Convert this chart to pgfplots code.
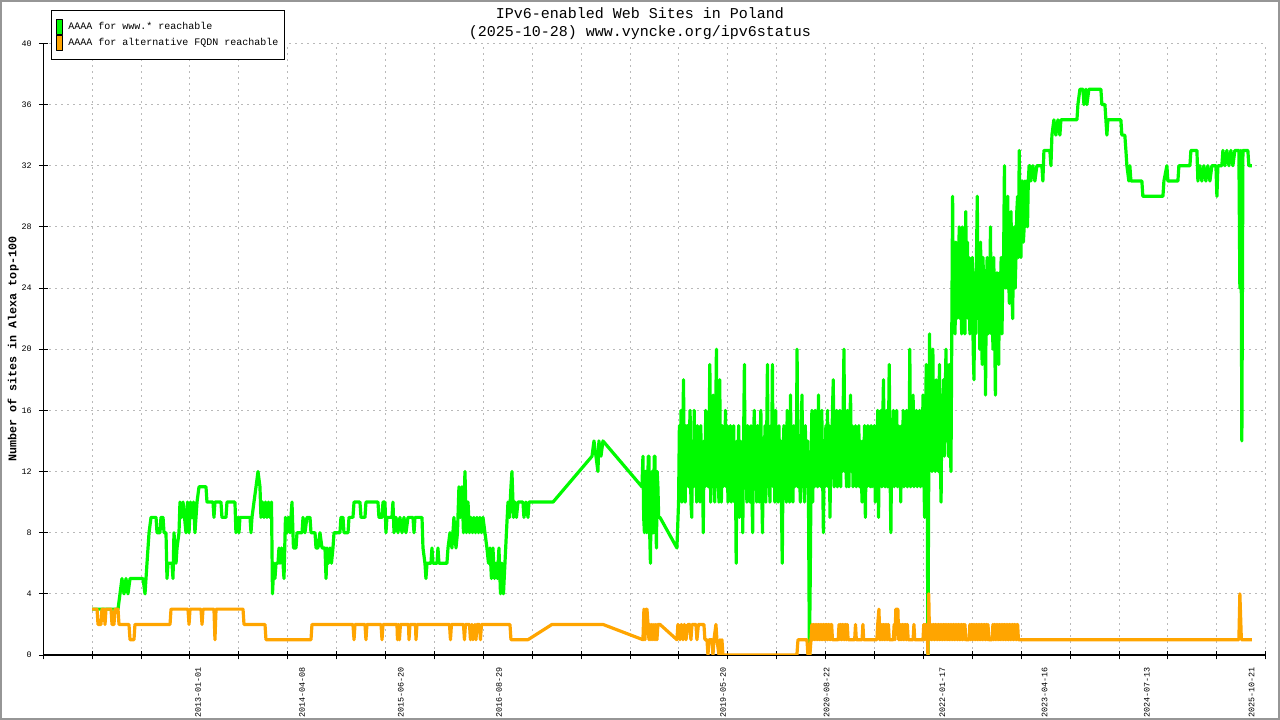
\documentclass[border=0pt]{standalone}
\usepackage{fontspec}
\setmainfont{Liberation Mono}
\usepackage{pgfplots}
\pgfplotsset{compat=1.18}
\definecolor{wwwgreen}{RGB}{0,250,0}
\definecolor{altorange}{RGB}{255,165,0}
\definecolor{gridgray}{RGB}{185,185,185}
\definecolor{framegray}{RGB}{150,150,150}

\begin{document}
\begin{tikzpicture}
\useasboundingbox (0,0) rectangle (640bp,360bp);
\draw[framegray, line width=1bp] (0.5bp,0.5bp) rectangle (639.5bp,359.5bp);
\node[font=\fontsize{7.5bp}{9.25bp}\selectfont, align=center, anchor=center] at (320bp,348.1bp)
  {IPv6-enabled Web Sites in Poland\\(2025-10-28) www.vyncke.org/ipv6status};
\begin{axis}[
  at={(21.65bp,32.5bp)}, anchor=south west,
  scale only axis, width=611.2bp, height=305.8bp,
  xmin=2011.120, xmax=2025.975, ymin=0, ymax=40,
  axis x line*=bottom, axis y line*=left,
  axis line style={black, line width=0.6bp, -},
  xtick={2011.120,2011.7142,...,2026}, xticklabels={},
  ytick={0,4,...,40},
  tick align=center, major tick length=4.5bp,
  tick style={black, line width=0.5bp},
  grid=major, grid style={gridgray, dash pattern=on 1bp off 2bp, line width=0.5bp},
  extra x ticks={2013.000,2014.266,2015.466,2016.658,2019.381,2020.639,2022.044,2023.288,2024.530,2025.803},
  extra x tick labels={2013-01-01,2014-04-08,2015-06-20,2016-08-29,2019-05-20,2020-08-22,2022-01-17,2023-04-16,2024-07-13,2025-10-21},
  extra x tick style={grid=none, major tick length=0pt,
    tick label style={rotate=90, anchor=east, font=\fontsize{4.2bp}{5bp}\selectfont}},
  xticklabel shift=2.5bp,
  yticklabel style={font=\fontsize{4.2bp}{5bp}\selectfont},
  /pgf/number format/assume math mode=true,
  ylabel={Number of sites in Alexa top-100},
  ylabel style={font=\bfseries\fontsize{5.85bp}{7bp}\selectfont, at={(axis description cs:-0.0245,0.5)}, anchor=center},
  legend style={at={(axis description cs:0.006,1.0544)}, anchor=north west, draw=black, line width=0.5bp,
    font=\fontsize{5bp}{6bp}\selectfont, inner xsep=2.6bp, inner ysep=4.2bp, row sep=0.3bp,
    nodes={inner sep=0.5bp}, /tikz/every odd column/.append style={column sep=2bp}},
  legend cell align=left,
]
\addplot[wwwgreen, line width=1.6bp, line join=round,
  legend image code/.code={\filldraw[fill=wwwgreen, draw=black, line width=0.5bp] (0bp,-3.7bp) rectangle (3bp,3.7bp);}]
coordinates {
(2011.712,3) (2012.028,3) (2012.052,4) (2012.076,5) (2012.101,4) (2012.125,5) (2012.149,4) (2012.174,5)
(2012.332,5) (2012.356,4) (2012.380,6) (2012.405,8) (2012.429,9) (2012.490,9) (2012.502,8) (2012.538,8)
(2012.550,9) (2012.575,9) (2012.587,8) (2012.611,8) (2012.623,5) (2012.635,6) (2012.684,6) (2012.696,5)
(2012.708,8) (2012.733,6) (2012.745,7) (2012.769,8) (2012.781,10) (2012.799,9) (2012.818,10) (2012.836,9)
(2012.854,8) (2012.872,10) (2012.891,8) (2012.909,10) (2012.927,9) (2012.945,10) (2012.963,8) (2012.988,10)
(2013.012,11) (2013.097,11) (2013.109,10) (2013.182,10) (2013.194,9) (2013.206,10) (2013.279,10) (2013.291,9)
(2013.340,9) (2013.352,10) (2013.449,10) (2013.461,8) (2013.486,9) (2013.498,8) (2013.510,9) (2013.632,9)
(2013.644,8) (2013.656,9) (2013.680,10) (2013.705,11) (2013.729,12) (2013.753,11) (2013.765,9) (2013.784,10)
(2013.802,9) (2013.820,10) (2013.838,9) (2013.856,10) (2013.875,9) (2013.893,10) (2013.905,4) (2013.923,6)
(2013.935,5) (2013.948,6) (2013.972,6) (2013.984,7) (2013.996,6) (2014.015,7) (2014.033,6) (2014.045,5)
(2014.063,9) (2014.081,8) (2014.099,9) (2014.118,8) (2014.142,10) (2014.160,7) (2014.191,7) (2014.203,8)
(2014.264,8) (2014.276,9) (2014.300,8) (2014.324,9) (2014.361,9) (2014.373,8) (2014.422,8) (2014.434,7)
(2014.458,7) (2014.482,8) (2014.507,7) (2014.543,7) (2014.556,5) (2014.568,7) (2014.586,6) (2014.604,7)
(2014.622,6) (2014.640,7) (2014.653,8) (2014.725,8) (2014.737,9) (2014.762,9) (2014.774,8) (2014.823,8)
(2014.835,9) (2014.883,9) (2014.896,10) (2014.968,10) (2014.981,9) (2015.029,9) (2015.041,10) (2015.187,10)
(2015.199,9) (2015.236,9) (2015.248,10) (2015.272,10) (2015.284,8) (2015.296,9) (2015.357,9) (2015.369,10)
(2015.382,8) (2015.406,9) (2015.430,8) (2015.454,9) (2015.479,8) (2015.503,9) (2015.527,8) (2015.552,9)
(2015.612,9) (2015.625,8) (2015.637,9) (2015.722,9) (2015.734,7) (2015.758,6) (2015.770,5) (2015.783,6)
(2015.831,6) (2015.843,7) (2015.855,6) (2015.904,6) (2015.916,7) (2015.928,6) (2016.025,6) (2016.038,7)
(2016.062,8) (2016.086,7) (2016.110,9) (2016.135,7) (2016.153,8) (2016.171,11) (2016.189,9) (2016.208,11)
(2016.226,8) (2016.244,12) (2016.262,8) (2016.281,10) (2016.299,8) (2016.317,9) (2016.335,8) (2016.353,9)
(2016.372,8) (2016.390,9) (2016.408,8) (2016.426,9) (2016.444,8) (2016.463,9) (2016.487,8) (2016.511,7)
(2016.530,6) (2016.548,7) (2016.566,5) (2016.584,7) (2016.603,5) (2016.621,6) (2016.639,5) (2016.657,7)
(2016.676,4) (2016.694,6) (2016.712,4) (2016.730,6) (2016.748,8) (2016.767,10) (2016.785,9) (2016.803,11)
(2016.815,12) (2016.834,9) (2016.852,10) (2016.870,9) (2016.888,10) (2016.949,10) (2016.961,9) (2016.985,10)
(2017.010,9) (2017.022,10) (2017.314,10) (2017.788,13) (2017.812,14) (2017.836,13) (2017.860,12) (2017.872,14)
(2017.897,13) (2017.921,14) (2018.395,11)
(2018.407,13) (2018.416,9) (2018.425,8) (2018.434,12) (2018.444,12) (2018.453,8) (2018.462,9) (2018.471,13)
(2018.480,13) (2018.489,8) (2018.498,6) (2018.507,11) (2018.516,12) (2018.525,8) (2018.535,8) (2018.544,13)
(2018.553,13) (2018.562,9) (2018.571,7) (2018.580,12) (2018.589,11) (2018.598,9) (2018.607,9) (2018.614,9)
(2018.820,7)
(2018.84,10) (2018.85,15) (2018.86,11) (2018.87,16) (2018.88,10) (2018.89,14) (2018.90,18) (2018.91,11)
(2018.92,10) (2018.93,15) (2018.94,12) (2018.95,15) (2018.96,11) (2018.97,14) (2018.98,16) (2018.99,10)
(2019.00,9) (2019.01,14) (2019.02,11) (2019.03,16) (2019.04,12) (2019.05,14) (2019.06,10) (2019.07,15)
(2019.08,11) (2019.09,14) (2019.10,10) (2019.11,15) (2019.12,11) (2019.13,13) (2019.14,8) (2019.15,14)
(2019.16,11) (2019.17,16) (2019.18,12) (2019.19,15) (2019.20,11) (2019.21,14) (2019.22,19) (2019.23,10)
(2019.24,14) (2019.25,11) (2019.26,17) (2019.27,12) (2019.28,10) (2019.29,15) (2019.30,20) (2019.31,11)
(2019.32,14) (2019.33,10) (2019.34,18) (2019.35,12) (2019.36,10) (2019.37,15) (2019.38,11) (2019.39,14)
(2019.40,12) (2019.41,16) (2019.42,11) (2019.43,15) (2019.44,10) (2019.45,14) (2019.46,11) (2019.47,15)
(2019.48,10) (2019.49,14) (2019.50,11) (2019.51,15) (2019.52,10) (2019.53,13) (2019.54,6) (2019.55,14)
(2019.56,11) (2019.57,15) (2019.58,9) (2019.59,14) (2019.60,11) (2019.61,13) (2019.62,8) (2019.63,14)
(2019.64,19) (2019.65,11) (2019.66,14) (2019.67,10) (2019.68,15) (2019.69,11) (2019.70,14) (2019.71,10)
(2019.72,15) (2019.73,11) (2019.74,8) (2019.75,14) (2019.76,16) (2019.77,11) (2019.78,14) (2019.79,10)
(2019.80,15) (2019.81,12) (2019.82,10) (2019.83,14) (2019.84,16) (2019.85,11) (2019.86,8) (2019.87,14)
(2019.88,11) (2019.89,15) (2019.90,10) (2019.91,14) (2019.92,19) (2019.93,11) (2019.94,14) (2019.95,10)
(2019.96,15) (2019.97,12) (2019.98,19) (2019.99,11) (2020.00,14) (2020.01,10) (2020.02,16) (2020.03,11)
(2020.04,14) (2020.05,10) (2020.06,15) (2020.07,11) (2020.08,14) (2020.09,10) (2020.10,6) (2020.11,13)
(2020.12,15) (2020.13,11) (2020.14,14) (2020.15,10) (2020.16,16) (2020.17,11) (2020.18,14) (2020.19,10)
(2020.20,17) (2020.21,11) (2020.22,14) (2020.23,10) (2020.24,15) (2020.25,11) (2020.26,14) (2020.27,12)
(2020.28,20) (2020.29,11) (2020.30,14) (2020.31,12) (2020.32,10) (2020.33,15) (2020.34,17) (2020.35,11)
(2020.36,14) (2020.37,10) (2020.38,15) (2020.39,12) (2020.40,11) (2020.41,14) (2020.42,9) (2020.43,0)
(2020.44,5) (2020.45,12) (2020.46,16) (2020.47,10) (2020.48,14) (2020.49,11) (2020.50,16) (2020.51,12)
(2020.52,15) (2020.53,11) (2020.54,17) (2020.55,12) (2020.56,15) (2020.57,11) (2020.58,16) (2020.59,12)
(2020.60,8) (2020.61,14) (2020.62,11) (2020.63,15) (2020.64,12) (2020.65,16) (2020.66,11) (2020.67,15)
(2020.68,9) (2020.69,14) (2020.70,12) (2020.71,16) (2020.72,18) (2020.73,11) (2020.74,15) (2020.75,12)
(2020.76,16) (2020.77,11) (2020.78,14) (2020.79,12) (2020.80,16) (2020.81,11) (2020.82,15) (2020.83,12)
(2020.84,16) (2020.85,20) (2020.86,12) (2020.87,15) (2020.88,11) (2020.89,16) (2020.90,12) (2020.91,11)
(2020.92,15) (2020.93,17) (2020.94,12) (2020.95,15) (2020.96,11) (2020.97,14) (2020.98,12) (2020.99,15)
(2021.00,11) (2021.01,14) (2021.02,12) (2021.03,15) (2021.04,11) (2021.05,14) (2021.06,12) (2021.07,10)
(2021.08,14) (2021.09,12) (2021.10,15) (2021.11,9) (2021.12,14) (2021.13,11) (2021.14,15) (2021.15,12)
(2021.16,14) (2021.17,11) (2021.18,15) (2021.19,11) (2021.20,14) (2021.21,12) (2021.22,15) (2021.23,10)
(2021.24,14) (2021.25,12) (2021.26,16) (2021.27,9) (2021.28,14) (2021.29,12) (2021.30,16) (2021.31,11)
(2021.32,15) (2021.33,18) (2021.34,12) (2021.35,11) (2021.36,15) (2021.37,16) (2021.38,11) (2021.39,14)
(2021.40,19) (2021.41,12) (2021.42,8) (2021.43,14) (2021.44,12) (2021.45,16) (2021.46,11) (2021.47,15)
(2021.48,12) (2021.49,16) (2021.50,11) (2021.51,15) (2021.52,12) (2021.53,14) (2021.54,10) (2021.55,15)
(2021.56,12) (2021.57,16) (2021.58,11) (2021.59,15) (2021.60,12) (2021.61,16) (2021.62,11) (2021.63,15)
(2021.64,12) (2021.65,20) (2021.66,11) (2021.67,15) (2021.68,12) (2021.69,17) (2021.70,11) (2021.71,15)
(2021.72,12) (2021.73,16) (2021.74,11) (2021.75,15) (2021.76,12) (2021.77,16) (2021.78,11) (2021.79,15)
(2021.80,12) (2021.81,17) (2021.82,12) (2021.83,9) (2021.84,15) (2021.85,19) (2021.86,13) (2021.87,0)
(2021.88,12) (2021.89,21) (2021.90,13) (2021.91,18) (2021.92,12) (2021.93,20) (2021.94,14) (2021.95,17)
(2021.96,12) (2021.97,18) (2021.98,13) (2021.99,16) (2022.00,12) (2022.01,19) (2022.02,13) (2022.03,10)
(2022.04,17) (2022.05,14) (2022.06,18) (2022.07,13) (2022.08,17) (2022.09,20) (2022.10,14) (2022.11,18)
(2022.12,13) (2022.13,19) (2022.14,14) (2022.15,12) (2022.16,21) (2022.17,30) (2022.18,22) (2022.19,26)
(2022.20,21) (2022.21,27) (2022.22,22) (2022.23,26) (2022.24,23) (2022.25,28) (2022.26,22) (2022.27,25)
(2022.28,21) (2022.29,28) (2022.30,22) (2022.31,26) (2022.32,21) (2022.33,29) (2022.34,23) (2022.35,27)
(2022.36,22) (2022.37,26) (2022.38,21) (2022.39,25) (2022.40,22) (2022.41,26) (2022.42,20) (2022.43,18)
(2022.44,25) (2022.45,21) (2022.46,26) (2022.47,30) (2022.48,22) (2022.49,25) (2022.50,20) (2022.51,27)
(2022.52,21) (2022.53,19) (2022.54,26) (2022.55,22) (2022.56,25) (2022.57,17) (2022.58,24) (2022.59,26)
(2022.60,21) (2022.61,25) (2022.62,22) (2022.63,28) (2022.64,21) (2022.65,25) (2022.66,20) (2022.67,26)
(2022.68,22) (2022.69,17) (2022.70,24) (2022.71,25) (2022.72,21) (2022.73,19) (2022.74,25) (2022.75,22)
(2022.76,26) (2022.77,21) (2022.78,25) (2022.79,26) (2022.80,32) (2022.81,24) (2022.82,27) (2022.83,24)
(2022.84,30) (2022.85,25) (2022.86,23) (2022.87,28) (2022.88,29) (2022.89,24) (2022.90,22) (2022.91,27)
(2022.92,28) (2022.93,24) (2022.94,26) (2022.95,29) (2022.96,30) (2022.97,26) (2022.98,33) (2022.99,27)
(2023.00,26) (2023.01,30) (2023.02,31) (2023.03,27) (2023.04,28) (2023.05,31) (2023.06,29) (2023.07,31)
(2023.08,28) (2023.09,31) (2023.10,32) (2023.11,32)
(2023.121,31) (2023.146,32) (2023.170,31) (2023.194,32) (2023.255,32) (2023.267,31) (2023.280,33) (2023.352,33)
(2023.365,32) (2023.377,34) (2023.401,35) (2023.425,34) (2023.450,35) (2023.474,34) (2023.486,35) (2023.681,35)
(2023.693,36) (2023.717,37) (2023.754,37) (2023.766,36) (2023.790,37) (2023.802,36) (2023.826,37) (2023.972,37)
(2023.984,36) (2024.021,36) (2024.033,35) (2024.045,34) (2024.057,35) (2024.215,35) (2024.227,34) (2024.263,34)
(2024.276,33) (2024.288,32) (2024.312,31) (2024.324,32) (2024.337,31) (2024.470,31) (2024.482,30) (2024.726,30)
(2024.738,31) (2024.774,32) (2024.786,31) (2024.908,31) (2024.920,32) (2025.054,32) (2025.066,33) (2025.139,33)
(2025.151,31) (2025.175,32) (2025.199,31) (2025.224,32) (2025.248,31) (2025.272,32) (2025.297,31) (2025.321,32)
(2025.370,32) (2025.382,30) (2025.394,32) (2025.442,32) (2025.455,33) (2025.479,32) (2025.503,33) (2025.528,32)
(2025.552,33) (2025.576,32) (2025.600,33) (2025.649,33) (2025.661,24) (2025.673,33) (2025.685,14) (2025.698,33)
(2025.758,33) (2025.770,32) (2025.807,32)
};
\addlegendentry{AAAA for www.* reachable}
\addplot[altorange, line width=1.6bp, line join=round,
  legend image code/.code={\filldraw[fill=altorange, draw=black, line width=0.5bp] (0bp,-3.7bp) rectangle (3bp,3.7bp);}]
coordinates {
(2011.712,3) (2011.773,3) (2011.785,2) (2011.821,2) (2011.833,3) (2011.858,3) (2011.870,2) (2011.882,3)
(2011.943,3) (2011.955,2) (2011.979,2) (2011.991,3) (2012.028,3) (2012.040,2) (2012.161,2) (2012.174,1)
(2012.222,1) (2012.234,2) (2012.660,2) (2012.672,3) (2012.878,3) (2012.891,2) (2012.903,3) (2013.036,3)
(2013.049,2) (2013.061,3) (2013.194,3) (2013.206,1) (2013.219,3) (2013.547,3) (2013.559,2) (2013.814,2)
(2013.826,1) (2014.373,1) (2014.385,2) (2014.883,2) (2014.896,1) (2014.908,2) (2015.029,2) (2015.041,1)
(2015.053,2) (2015.224,2) (2015.236,1) (2015.248,2) (2015.418,2) (2015.424,1) (2015.436,2) (2015.448,1)
(2015.460,2) (2015.558,2) (2015.564,1) (2015.576,2) (2015.643,2) (2015.649,1) (2015.661,2) (2016.056,2)
(2016.068,1) (2016.080,2) (2016.226,2) (2016.238,1) (2016.250,2) (2016.299,2) (2016.311,1) (2016.329,2)
(2016.341,1) (2016.366,2) (2016.378,1) (2016.390,2) (2016.420,2) (2016.432,1) (2016.445,2) (2016.791,2)
(2016.803,1) (2017.010,1) (2017.302,2) (2017.921,2) (2018.407,1) (2018.419,3) (2018.432,1) (2018.444,3)
(2018.456,3) (2018.468,2) (2018.480,1) (2018.492,2) (2018.504,1) (2018.516,2) (2018.528,1) (2018.541,2)
(2018.553,1) (2018.565,2) (2018.577,1) (2018.589,2) (2018.614,2)
(2018.820,1) (2018.832,2) (2018.857,1) (2018.875,2) (2018.893,1) (2018.911,2) (2018.930,1) (2018.954,2)
(2018.978,2) (2018.990,1) (2019.003,2) (2019.051,2) (2019.063,1) (2019.081,2) (2019.148,2) (2019.160,1)
(2019.185,1) (2019.197,0) (2019.209,1) (2019.245,1) (2019.258,0) (2019.270,1) (2019.294,2) (2019.306,1)
(2019.331,0) (2019.343,1) (2019.355,0) (2019.367,1) (2019.379,0) (2020.278,0) (2020.291,1) (2020.400,1)
(2020.412,0) (2020.436,0) (2020.449,1)
(2020.46,2) (2020.47,1) (2020.48,2) (2020.49,1) (2020.50,2) (2020.51,1) (2020.52,2) (2020.53,1)
(2020.54,2) (2020.55,1) (2020.56,2) (2020.57,1) (2020.58,2) (2020.59,1) (2020.60,2) (2020.61,1)
(2020.62,2) (2020.63,1) (2020.64,2) (2020.65,1) (2020.66,2) (2020.67,1) (2020.68,2) (2020.69,1)
(2020.70,2) (2020.71,1) (2020.78,1) (2020.79,2) (2020.80,1) (2020.81,2) (2020.82,1) (2020.83,2)
(2020.84,1) (2020.85,2) (2020.86,1) (2020.87,2) (2020.88,1) (2020.89,2) (2020.90,1) (2020.98,1)
(2020.99,2) (2021.00,1) (2021.07,1) (2021.08,2) (2021.09,1) (2021.25,1) (2021.26,2) (2021.275,3)
(2021.285,1) (2021.29,2) (2021.30,1) (2021.31,2) (2021.32,1) (2021.33,2) (2021.34,1) (2021.35,2)
(2021.36,1) (2021.37,2) (2021.38,1) (2021.39,2) (2021.40,1) (2021.45,1) (2021.46,2) (2021.47,1)
(2021.48,3) (2021.505,3) (2021.515,1) (2021.52,2) (2021.53,1) (2021.54,2) (2021.55,1) (2021.56,2)
(2021.57,1) (2021.58,2) (2021.59,1) (2021.60,2) (2021.61,1) (2021.62,2) (2021.63,1) (2021.69,1)
(2021.70,2) (2021.71,1) (2021.81,1) (2021.82,2) (2021.83,1) (2021.84,2) (2021.85,1) (2021.86,2)
(2021.87,0) (2021.88,4) (2021.89,1) (2021.90,2) (2021.91,1) (2021.92,2) (2021.93,1) (2021.94,2)
(2021.95,1) (2021.96,2) (2021.97,1) (2021.98,2) (2021.99,1) (2022.00,2) (2022.01,1) (2022.02,2)
(2022.03,1) (2022.04,2) (2022.05,1) (2022.06,2) (2022.07,1) (2022.08,2) (2022.09,1) (2022.10,2)
(2022.11,1) (2022.12,2) (2022.13,1) (2022.14,2) (2022.15,1) (2022.16,2) (2022.17,1) (2022.18,2)
(2022.19,1) (2022.20,2) (2022.21,1) (2022.22,2) (2022.23,1) (2022.24,2) (2022.25,1) (2022.26,2)
(2022.27,1) (2022.28,2) (2022.29,1) (2022.30,2) (2022.31,1) (2022.32,2) (2022.33,1) (2022.37,1)
(2022.38,2) (2022.39,1) (2022.40,2) (2022.41,1) (2022.42,2) (2022.43,1) (2022.44,2) (2022.45,1)
(2022.46,2) (2022.47,1) (2022.48,2) (2022.49,1) (2022.50,2) (2022.51,1) (2022.52,2) (2022.53,1)
(2022.54,2) (2022.55,1) (2022.56,2) (2022.57,1) (2022.58,2) (2022.59,1) (2022.60,2) (2022.61,1)
(2022.65,1) (2022.66,2) (2022.67,1) (2022.68,2) (2022.69,1) (2022.70,2) (2022.71,1) (2022.72,2)
(2022.73,1) (2022.74,2) (2022.75,1) (2022.76,2) (2022.77,1) (2022.78,2) (2022.79,1) (2022.80,2)
(2022.81,1) (2022.82,2) (2022.83,1) (2022.84,2) (2022.85,1) (2022.86,2) (2022.87,1) (2022.88,2)
(2022.89,1) (2022.90,2) (2022.91,1) (2022.92,2) (2022.93,1) (2022.94,2) (2022.95,1) (2022.96,2)
(2022.97,1) (2025.649,1) (2025.661,4) (2025.679,1) (2025.807,1)
};
\addlegendentry{AAAA for alternative FQDN reachable}
\end{axis}
\end{tikzpicture}
\end{document}
